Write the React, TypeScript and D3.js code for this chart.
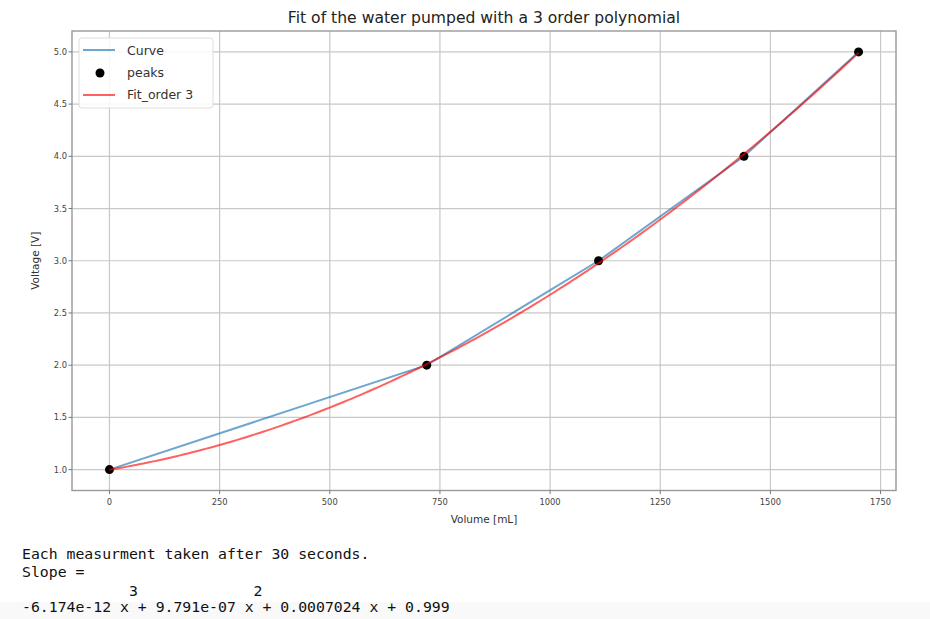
import React from "react";
import * as d3 from "d3";

// Measured peaks (volume in mL, voltage in V)
const peakVolume = [0, 720, 1110, 1440, 1700];
const peakVoltage = [1, 2, 3, 4, 5];

// Raw pump curve samples
const curveVolume = [0, 720, 1110, 1440, 1700];
const curveVoltage = [1, 2, 3, 4, 5];

// Cubic fit coefficients, highest order first
const fitCoeffs = [-6.174e-12, 9.791e-7, 0.0007024, 0.999];

const xTicks = [0, 250, 500, 750, 1000, 1250, 1500, 1750];
const yTicks = [1.0, 1.5, 2.0, 2.5, 3.0, 3.5, 4.0, 4.5, 5.0];

const W = 930;
const H = 619;
const L = 72;
const R = 896;
const T = 31;
const B = 490.5;

const polyval = (c: number[], x: number) => c.reduce((acc, k) => acc * x + k, 0);

export default function App() {
  const x = d3.scaleLinear().domain([-85, 1785]).range([L, R]);
  const y = d3.scaleLinear().domain([0.8, 5.2]).range([B, T]);

  const line = d3
    .line<[number, number]>()
    .x((d) => x(d[0]))
    .y((d) => y(d[1]));

  const curvePts: [number, number][] = curveVolume.map((v, i) => [v, curveVoltage[i]]);
  const fitX = d3.range(0, 1700 + 1e-9, 10);
  const fitPts: [number, number][] = fitX.map((v) => [v, polyval(fitCoeffs, v)]);

  const sans = "DejaVu Sans, sans-serif";
  const mono = "DejaVu Sans Mono, monospace";
  const tickColor = "#444";
  const gridColor = "#c8c8c8";

  return (
    <svg
      width={W}
      height={H}
      style={{ position: "absolute", left: 0, top: 0, background: "#fff" }}
    >
      <rect x={0} y={0} width={W} height={H} fill="#fff" />
      <rect x={0} y={602} width={W} height={H - 602} fill="#f9f9f9" />

      {/* grid */}
      {xTicks.map((t) => (
        <line key={"gx" + t} x1={x(t)} x2={x(t)} y1={T} y2={B} stroke={gridColor} strokeWidth={1.2} />
      ))}
      {yTicks.map((t) => (
        <line key={"gy" + t} x1={L} x2={R} y1={y(t)} y2={y(t)} stroke={gridColor} strokeWidth={1.2} />
      ))}

      {/* series */}
      <path d={line(curvePts) ?? ""} fill="none" stroke="#1f77b4" strokeOpacity={0.65} strokeWidth={2} />
      {peakVolume.map((v, i) => (
        <circle key={"p" + i} cx={x(v)} cy={y(peakVoltage[i])} r={4.5} fill="#000" />
      ))}
      <path d={line(fitPts) ?? ""} fill="none" stroke="#ff0000" strokeOpacity={0.62} strokeWidth={2} />

      {/* frame */}
      <rect x={L} y={T} width={R - L} height={B - T} fill="none" stroke="#999" strokeWidth={1.4} />

      {/* x ticks */}
      {xTicks.map((t) => (
        <g key={"xt" + t}>
          <line x1={x(t)} x2={x(t)} y1={B} y2={B + 3.5} stroke="#777" strokeWidth={1} />
          <text x={x(t)} y={B + 14} textAnchor="middle" fontFamily={sans} fontSize={8.3} fill={tickColor}>
            {t}
          </text>
        </g>
      ))}
      {/* y ticks */}
      {yTicks.map((t) => (
        <g key={"yt" + t}>
          <line x1={L - 3.5} x2={L} y1={y(t)} y2={y(t)} stroke="#777" strokeWidth={1} />
          <text x={L - 5} y={y(t) + 3} textAnchor="end" fontFamily={sans} fontSize={8.3} fill={tickColor}>
            {t.toFixed(1)}
          </text>
        </g>
      ))}

      {/* axis labels and title */}
      <text x={(L + R) / 2} y={523} textAnchor="middle" fontFamily={sans} fontSize={10.5} fill="#333">
        Volume [mL]
      </text>
      <text
        transform={`translate(39,${(T + B) / 2}) rotate(-90)`}
        textAnchor="middle"
        fontFamily={sans}
        fontSize={10.5}
        fill="#333"
      >
        Voltage [V]
      </text>
      <text x={(L + R) / 2} y={23} textAnchor="middle" fontFamily={sans} fontSize={15.6} fill="#222">
        Fit of the water pumped with a 3 order polynomial
      </text>

      {/* legend */}
      <g>
        <rect x={79} y={38} width={134} height={70} rx={3} fill="#fff" fillOpacity={0.85} stroke="#dddddd" />
        <line x1={83} x2={115} y1={50} y2={50} stroke="#1f77b4" strokeOpacity={0.65} strokeWidth={2} />
        <text x={127} y={55} fontFamily={sans} fontSize={12.5} fill="#333">Curve</text>
        <circle cx={100} cy={73} r={4.5} fill="#000" />
        <text x={127} y={77} fontFamily={sans} fontSize={12.5} fill="#333">peaks</text>
        <line x1={83} x2={115} y1={95} y2={95} stroke="#ff0000" strokeOpacity={0.62} strokeWidth={2} />
        <text x={127} y={99} fontFamily={sans} fontSize={12.5} fill="#333">Fit_order 3</text>
      </g>

      {/* printed output below the figure */}
      <g fontFamily={mono} fontSize={14.8} fill="#111" style={{ whiteSpace: "pre" }}>
        <text x={22} y={559} xmlSpace="preserve">Each measurment taken after 30 seconds.</text>
        <text x={22} y={577} xmlSpace="preserve">Slope =</text>
        <text x={22} y={596} xmlSpace="preserve">{"            3             2"}</text>
        <text x={22} y={612} xmlSpace="preserve">
          -6.174e-12 x + 9.791e-07 x + 0.0007024 x + 0.999
        </text>
      </g>
    </svg>
  );
}
